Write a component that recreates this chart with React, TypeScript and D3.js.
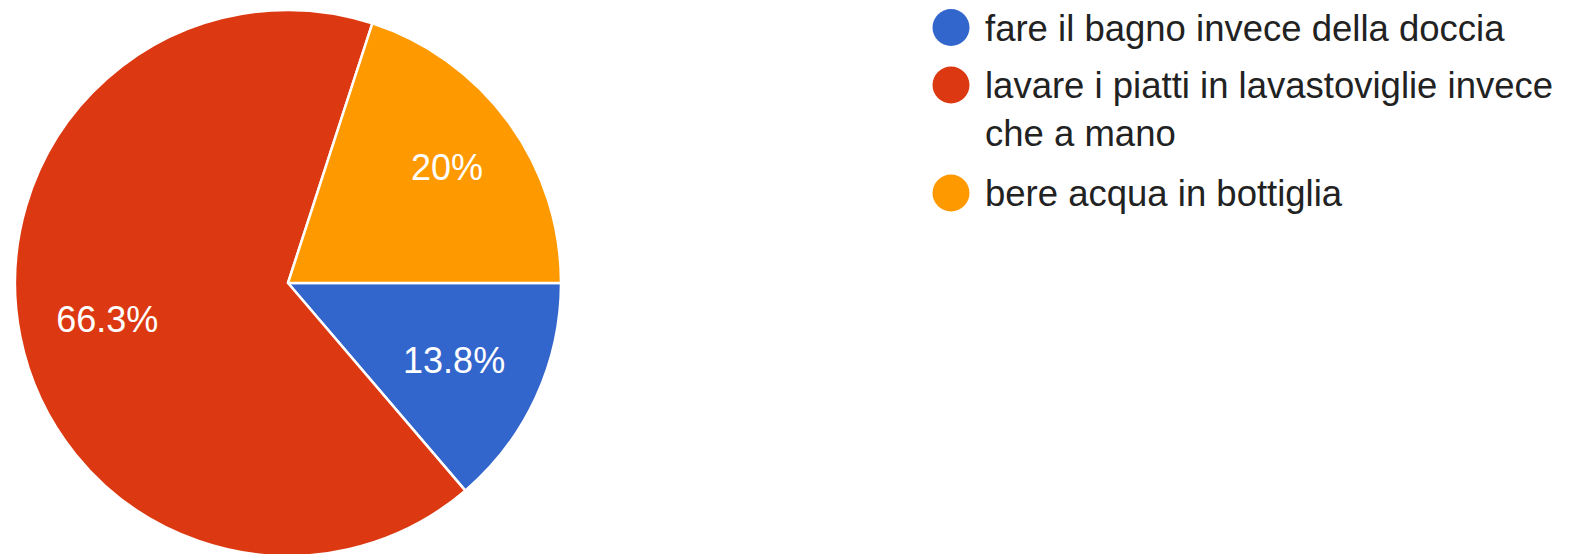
import { useEffect, useRef } from "react";
import * as d3 from "d3";

const categories = [
  "fare il bagno invece della doccia",
  "lavare i piatti in lavastoviglie invece che a mano",
  "bere acqua in bottiglia",
];
// risposte (80 in totale)
const counts = [11, 53, 16];
const colors = ["#3366cc", "#dc3912", "#ff9900"];
// come il legend va a capo
const legendLines = [
  ["fare il bagno invece della doccia"],
  ["lavare i piatti in lavastoviglie invece", "che a mano"],
  ["bere acqua in bottiglia"],
];

const W = 1575;
const H = 554;

const App = () => {
  const ref = useRef<SVGSVGElement>(null);

  useEffect(() => {
    const svg = d3.select(ref.current);
    svg.selectAll("*").remove();

    const cx = 288;
    const cy = 283;
    const R = 273;
    const total = d3.sum(counts);

    const pie = d3
      .pie<number>()
      .sort(null)
      .startAngle(Math.PI / 2)
      .endAngle(Math.PI / 2 + 2 * Math.PI);
    const arcs = pie(counts);

    const arc = d3.arc<d3.PieArcDatum<number>>().innerRadius(0).outerRadius(R);
    // distanza delle etichette dal centro (frazione del raggio)
    const labelR = [0.67, 0.675, 0.72];

    const g = svg.append("g").attr("transform", `translate(${cx},${cy})`);

    g.selectAll("path")
      .data(arcs)
      .enter()
      .append("path")
      .attr("d", arc)
      .attr("fill", (d, i) => colors[i])
      .attr("stroke", "#ffffff")
      .attr("stroke-width", 2.5)
      .attr("stroke-linejoin", "round");

    g.selectAll("text")
      .data(arcs)
      .enter()
      .append("text")
      .attr("transform", (d, i) => {
        const r = R * labelR[i];
        const c = d3.arc<d3.PieArcDatum<number>>().innerRadius(r).outerRadius(r).centroid(d);
        return `translate(${c})`;
      })
      .attr("text-anchor", "middle")
      .attr("dy", "0.36em")
      .attr("fill", "#ffffff")
      .attr("font-family", "Liberation Sans, Arial, sans-serif")
      .attr("font-size", 36)
      .text((d) => {
        const p = Math.round((d.value / total) * 1000) / 10;
        return p + "%";
      });

    // legenda
    const leg = svg.append("g");
    const itemY = [27.5, 85, 193];
    legendLines.forEach((lines, i) => {
      leg
        .append("circle")
        .attr("cx", 951)
        .attr("cy", itemY[i])
        .attr("r", 18.5)
        .attr("fill", colors[i]);
      lines.forEach((line, j) => {
        leg
          .append("text")
          .attr("x", 985)
          .attr("y", itemY[i] + j * 48)
          .attr("dy", "0.36em")
          .attr("fill", "#222222")
          .attr("font-family", "Liberation Sans, Arial, sans-serif")
          .attr("font-size", 36.5)
          .text(line);
      });
    });
  }, []);

  return (
    <svg
      ref={ref}
      width={W}
      height={H}
      style={{ position: "absolute", left: 0, top: 0 }}
      aria-label={categories.join(", ")}
    />
  );
};

export default App;
